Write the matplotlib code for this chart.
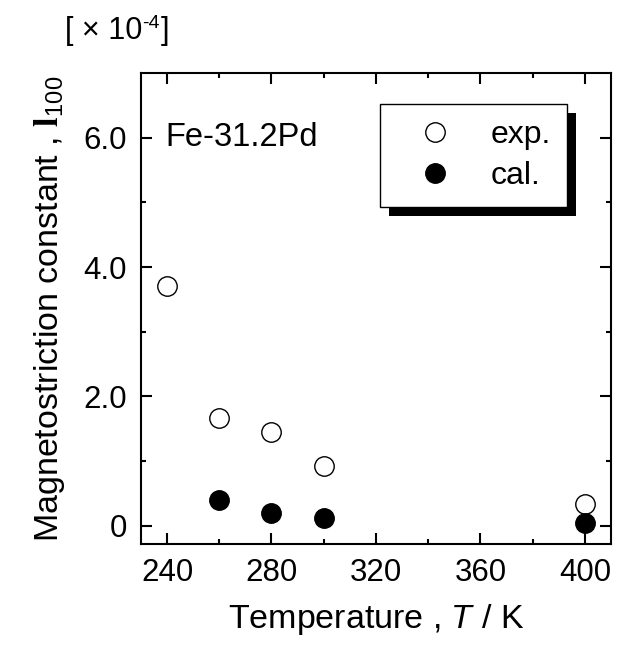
import numpy as np
import matplotlib
matplotlib.use('Agg')
import matplotlib.pyplot as plt
from matplotlib.patches import Rectangle

plt.rcParams['font.family'] = ['Liberation Sans', 'DejaVu Sans']
plt.rcParams['mathtext.fontset'] = 'custom'
plt.rcParams['mathtext.rm'] = 'Liberation Sans'
plt.rcParams['mathtext.it'] = 'Liberation Sans:italic'
plt.rcParams['mathtext.bf'] = 'Liberation Serif:bold'

# data (x 1e-4)
temp_exp = [240, 260, 280, 300, 400]
lam_exp = [3.70, 1.67, 1.45, 0.93, 0.33]
temp_cal = [260, 280, 300, 400]
lam_cal = [0.40, 0.20, 0.12, 0.05]

xticks = [240, 280, 320, 360, 400]
yticks = [0, 2, 4, 6]
ytick_labels = ['0', '2.0', '4.0', '6.0']

fig = plt.figure(figsize=(6.18, 6.46), dpi=100)
ax = fig.add_axes([0.228, 0.158, 0.7607, 0.729])

ax.plot(temp_exp, lam_exp, 'o', ms=14, mfc='white', mec='black', mew=1.0,
        ls='none', label='exp.')
ax.plot(temp_cal, lam_cal, 'o', ms=14, mfc='black', mec='black', mew=1.0,
        ls='none', label='cal.')

ax.set_xlim(230, 410)
ax.set_ylim(-0.28, 7.0)
ax.set_xticks(xticks)
ax.set_xticks(np.arange(240, 410, 20), minor=True)
ax.set_yticks(yticks)
ax.set_yticklabels(ytick_labels)
ax.set_yticks([1, 3, 5], minor=True)

for s in ax.spines.values():
    s.set_linewidth(1.5)
ax.tick_params(which='both', direction='in', top=True, right=True,
               width=1.5, labelsize=22.5, pad=10)
ax.tick_params(which='major', length=8)
ax.tick_params(which='minor', length=3.5)

ax.set_xlabel('Temperature , $\\it{T}$ / K', fontsize=24.5, labelpad=10)
ax.set_ylabel('Magnetostriction constant , $\\mathbf{l}_{100}$', fontsize=24.5,
              labelpad=12)

ax.text(0.051, 0.864, 'Fe-31.2Pd', transform=ax.transAxes, fontsize=23.5,
        va='center', ha='left')

# unit multiplier, top left
t1 = fig.text(0.105, 0.952, '[ \u00d7 10', fontsize=22, va='center', ha='left')
t2 = ax.annotate('-4', xy=(1.0, 0.75), xycoords=t1, fontsize=14,
                 va='center', ha='left', annotation_clip=False)
ax.annotate(']', xy=(1.0, 0.5), xycoords=t1, xytext=(13, 0),
            textcoords='offset points', fontsize=22, va='center', ha='left',
            annotation_clip=False)

leg = ax.legend(loc='upper right', bbox_to_anchor=(0.906, 0.934),
                borderaxespad=0, fontsize=23, fancybox=False, framealpha=1,
                edgecolor='black', borderpad=0.5, handlelength=2.4,
                handletextpad=0.55, labelspacing=0.35)
leg.get_frame().set_linewidth(1.0)

# offset black shadow behind the legend box
fig.canvas.draw()
bb = leg.get_frame().get_window_extent()
inv = fig.transFigure.inverted()
(x0, y0), (x1, y1) = inv.transform([[bb.x0 + 9, bb.y0 - 9], [bb.x1 + 9, bb.y1 - 9]])
shadow = Rectangle((x0, y0), x1 - x0, y1 - y0, transform=fig.transFigure,
                   facecolor='black', edgecolor='none', zorder=4, clip_on=False)
ax.add_artist(shadow)

fig.savefig('out.png', dpi=100)
